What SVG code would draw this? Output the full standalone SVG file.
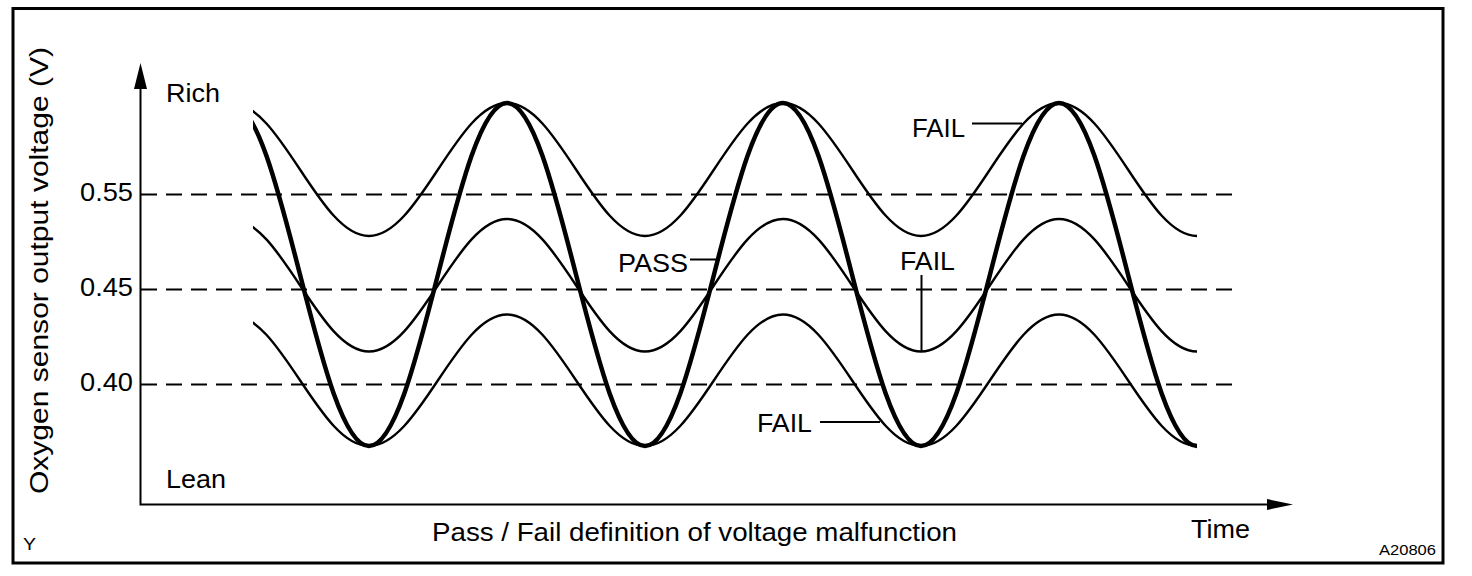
<svg xmlns="http://www.w3.org/2000/svg" width="1472" height="576" viewBox="0 0 1472 576">
<style>
.t{font-family:"Liberation Sans",Arial,sans-serif;font-size:26px;fill:#000}
.s{font-family:"Liberation Sans",Arial,sans-serif;fill:#000}
.ax{stroke:#000;stroke-width:2;fill:none}
.dash{stroke:#000;stroke-width:2;fill:none;stroke-dasharray:16 9}
.thin{stroke:#000;stroke-width:2.4;fill:none}
.thick{stroke:#000;stroke-width:4.5;fill:none}
.lead{stroke:#000;stroke-width:2;fill:none}
</style>
<defs>
<clipPath id="clip"><rect x="253" y="0" width="950" height="576"/></clipPath>
</defs>
<rect width="1472" height="576" fill="#fff"/>
<rect id="frame" x="13" y="8.5" width="1430" height="554.5" fill="none" stroke="#000" stroke-width="3"/>

<g id="axes">
<path class="ax" d="M140.5,80 V504.5 H1275"/>
<polygon points="140.5,63 134,89 147,89" fill="#000"/>
<polygon points="1293,504.5 1267,499 1267,510" fill="#000"/>
</g>

<g id="thresholds">
<path class="dash" d="M141,194.5 H1237"/>
<path class="dash" d="M141,289.5 H1237"/>
<path class="dash" d="M141,384.5 H1237"/>
</g>

<g id="curves" clip-path="url(#clip)">
<path id="fail-upper" class="thin" d="M231,103 c24.97,0 46.5,32.43 69,66.5 s44.03,66.5 69,66.5 s46.5,-32.43 69,-66.5 s44.03,-66.5 69,-66.5 s46.5,32.43 69,66.5 s44.03,66.5 69,66.5 s46.5,-32.43 69,-66.5 s44.03,-66.5 69,-66.5 s46.5,32.43 69,66.5 s44.03,66.5 69,66.5 s46.5,-32.43 69,-66.5 s44.03,-66.5 69,-66.5 s46.5,32.43 69,66.5 s44.03,66.5 69,66.5"/>
<path id="fail-middle" class="thin" d="M231,219 c24.97,0 46.5,32.31 69,66.25 s44.03,66.25 69,66.25 s46.5,-32.31 69,-66.25 s44.03,-66.25 69,-66.25 s46.5,32.31 69,66.25 s44.03,66.25 69,66.25 s46.5,-32.31 69,-66.25 s44.03,-66.25 69,-66.25 s46.5,32.31 69,66.25 s44.03,66.25 69,66.25 s46.5,-32.31 69,-66.25 s44.03,-66.25 69,-66.25 s46.5,32.31 69,66.25 s44.03,66.25 69,66.25"/>
<path id="fail-lower" class="thin" d="M231,314.5 c24.97,0 46.5,32.07 69,65.75 s44.03,65.75 69,65.75 s46.5,-32.07 69,-65.75 s44.03,-65.75 69,-65.75 s46.5,32.07 69,65.75 s44.03,65.75 69,65.75 s46.5,-32.07 69,-65.75 s44.03,-65.75 69,-65.75 s46.5,32.07 69,65.75 s44.03,65.75 69,65.75 s46.5,-32.07 69,-65.75 s44.03,-65.75 69,-65.75 s46.5,32.07 69,65.75 s44.03,65.75 69,65.75"/>
<path id="pass" class="thick" d="M231,103 c24.97,0 46.5,83.64 69,171.5 s44.03,171.5 69,171.5 s46.5,-83.64 69,-171.5 s44.03,-171.5 69,-171.5 s46.5,83.64 69,171.5 s44.03,171.5 69,171.5 s46.5,-83.64 69,-171.5 s44.03,-171.5 69,-171.5 s46.5,83.64 69,171.5 s44.03,171.5 69,171.5 s46.5,-83.64 69,-171.5 s44.03,-171.5 69,-171.5 s46.5,83.64 69,171.5 s44.03,171.5 69,171.5"/>
</g>

<g id="leaders">
<path class="lead" d="M690,259.5 H718"/>
<path class="lead" d="M921.5,275 V351"/>
<path class="lead" d="M820,422 H880"/>
<path class="lead" d="M972,123.5 H1022"/>
</g>

<g id="labels">
<text class="t" x="166" y="101.5" textLength="54" lengthAdjust="spacingAndGlyphs">Rich</text>
<text class="t" x="166" y="488" textLength="60" lengthAdjust="spacingAndGlyphs">Lean</text>
<text class="t" x="80" y="200.5" textLength="53" lengthAdjust="spacingAndGlyphs">0.55</text>
<text class="t" x="80" y="295.5" textLength="53" lengthAdjust="spacingAndGlyphs">0.45</text>
<text class="t" x="80" y="390.5" textLength="53" lengthAdjust="spacingAndGlyphs">0.40</text>
<text class="t" transform="translate(48,494) rotate(-90)" x="0" y="0" font-size="25" textLength="447" lengthAdjust="spacingAndGlyphs">Oxygen sensor output voltage (V)</text>
<text class="t" x="432" y="541" textLength="525" lengthAdjust="spacingAndGlyphs">Pass / Fail definition of voltage malfunction</text>
<text class="t" x="1191" y="538" textLength="59" lengthAdjust="spacingAndGlyphs">Time</text>
<text class="s" x="23" y="550" font-size="17" textLength="13" lengthAdjust="spacingAndGlyphs">Y</text>
<text class="s" x="1379" y="555" font-size="14" textLength="57" lengthAdjust="spacingAndGlyphs">A20806</text>
<text class="t" x="618" y="272" textLength="70" lengthAdjust="spacingAndGlyphs">PASS</text>
<text class="t" x="900" y="270" textLength="55" lengthAdjust="spacingAndGlyphs">FAIL</text>
<text class="t" x="757" y="432" textLength="55" lengthAdjust="spacingAndGlyphs">FAIL</text>
<text class="t" x="912" y="137" textLength="53" lengthAdjust="spacingAndGlyphs">FAIL</text>
</g>
</svg>
